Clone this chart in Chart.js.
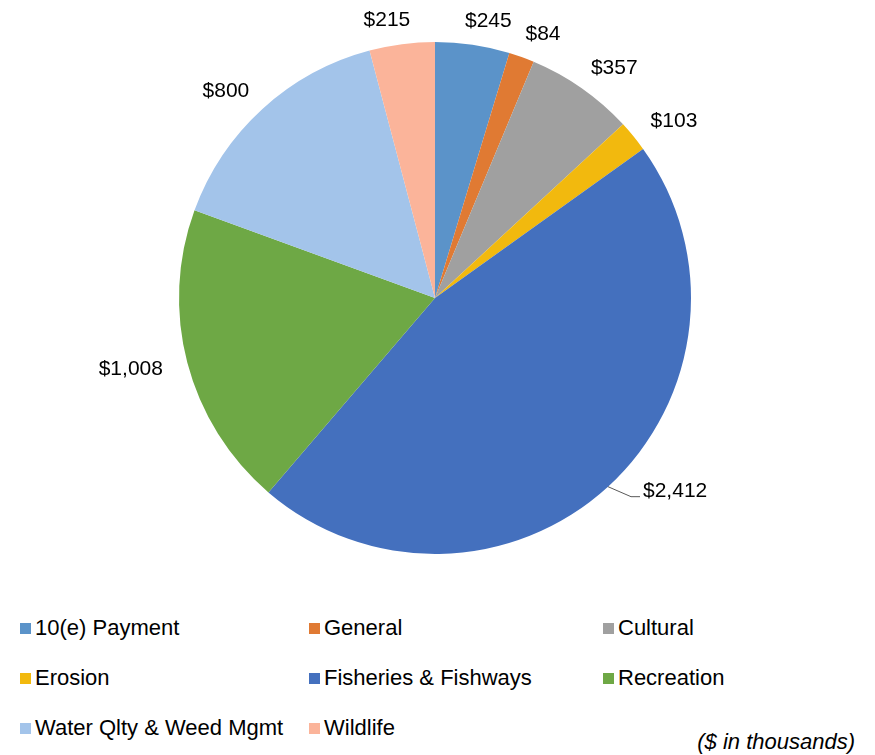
<!DOCTYPE html>
<html>
<head>
<meta charset="utf-8">
<script src="https://cdn.jsdelivr.net/npm/chart.js@4.4.1/dist/chart.umd.min.js"></script>
<style>
  html, body { margin: 0; padding: 0; background: #fff; }
  body { width: 875px; height: 755px; position: relative; overflow: hidden;
         font-family: "Liberation Sans", Arial, sans-serif; color: #000; }
  #wrap { position: absolute; left: 0; top: 0; width: 875px; height: 600px; }
  #legend { position: absolute; left: 20px; top: 603px; display: grid;
            grid-template-columns: 289px 294px 240px; grid-auto-rows: 50px; }
  .item { display: flex; align-items: center; font-size: 22px; white-space: nowrap; }
  .box { width: 11px; height: 11px; margin-right: 4px; flex: none; }
  #note { position: absolute; right: 20px; top: 729px; font-size: 22px; font-style: italic; }
</style>
</head>
<body>
<div id="wrap"><canvas id="pie" width="875" height="600"></canvas></div>
<div id="legend"></div>
<div id="note">($ in thousands)</div>
<script>
// categorias e valores (em milhares de $)
const categories = ['10(e) Payment', 'General', 'Cultural', 'Erosion',
  'Fisheries & Fishways', 'Recreation', 'Water Qlty & Weed Mgmt', 'Wildlife'];
const amounts = [245, 84, 357, 103, 2412, 1008, 800, 215];
const colors = ['#5B93C9', '#E07A33', '#A0A0A0', '#F2B90E',
  '#4470BE', '#6EA845', '#A3C4EA', '#FBB49A'];
const leaderIndex = 4; // rótulo com linha de chamada

function fmt(v) {
  return '$' + v.toLocaleString('en-US');
}

// legenda em HTML (3 colunas)
const legend = document.getElementById('legend');
categories.forEach(function(name, i) {
  const item = document.createElement('div');
  item.className = 'item';
  item.innerHTML = '<span class="box" style="background:' + colors[i] + '"></span>' + name;
  legend.appendChild(item);
});

// rótulos fora das fatias
const outsideLabels = {
  id: 'outsideLabels',
  afterDatasetsDraw(chart) {
    const ctx = chart.ctx;
    const meta = chart.getDatasetMeta(0);
    ctx.save();
    ctx.font = '21px "Liberation Sans", Arial, sans-serif';
    ctx.fillStyle = '#000';
    ctx.textBaseline = 'middle';
    meta.data.forEach(function(arc, i) {
      const p = arc.getProps(['x', 'y', 'startAngle', 'endAngle', 'outerRadius'], true);
      const mid = (p.startAngle + p.endAngle) / 2;
      const dx = Math.cos(mid), dy = Math.sin(mid);
      const text = fmt(amounts[i]);
      const w = ctx.measureText(text).width;
      if (i === leaderIndex) {
        const x0 = p.x + p.outerRadius * dx, y0 = p.y + p.outerRadius * dy;
        const x1 = x0 + 23, y1 = y0 + 10;
        const x2 = x1 + 9;
        ctx.strokeStyle = '#595959';
        ctx.lineWidth = 1;
        ctx.beginPath();
        ctx.moveTo(x0, y0);
        ctx.lineTo(x1, y1);
        ctx.lineTo(x2, y1);
        ctx.stroke();
        ctx.textAlign = 'left';
        ctx.fillText(text, x2 + 3, y1 - 5);
        return;
      }
      const r = p.outerRadius + 16;
      const cx = p.x + r * dx + dx * w / 2 + Math.sign(dx) * 10;
      const cy = p.y + r * dy + dy * 8;
      ctx.textAlign = 'center';
      ctx.fillText(text, cx, cy);
    });
    ctx.restore();
  }
};

new Chart(document.getElementById('pie').getContext('2d'), {
  type: 'pie',
  data: {
    labels: categories,
    datasets: [{
      data: amounts,
      backgroundColor: colors,
      borderWidth: 0,
      hoverOffset: 0,
      offset: 0
    }]
  },
  options: {
    responsive: false,
    animation: false,
    layout: { padding: { top: 42, bottom: 46, left: 0, right: 5 } },
    plugins: {
      legend: { display: false },
      tooltip: { enabled: false }
    }
  },
  plugins: [outsideLabels]
});
</script>
</body>
</html>
